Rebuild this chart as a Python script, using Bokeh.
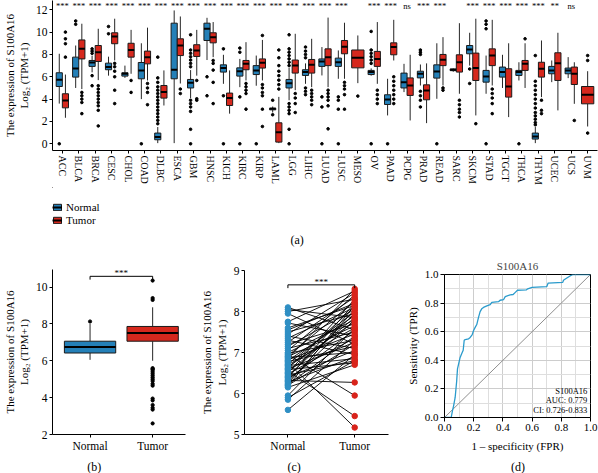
import numpy as np
from bokeh.plotting import figure
from bokeh.layouts import column, row
from bokeh.models import (ColumnDataSource, FixedTicker, Legend, LegendItem,
                          Range1d, Label, PrintfTickFormatter)
from bokeh.embed import file_html
from bokeh.resources import INLINE
from bokeh.core.properties import value

FONT = "Liberation Serif"
BLUE = "#2480b8"
RED = "#d6281d"
EDGE = "#1a1a1a"

# ---------------- data: panel (a) ----------------
cancers = ["ACC", "BLCA", "BRCA", "CESC", "CHOL", "COAD", "DLBC", "ESCA", "GBM", "HNSC",
           "KICH", "KIRC", "KIRP", "LAML", "LGG", "LIHC", "LUAD", "LUSC", "MESO", "OV",
           "PAAD", "PCPG", "PRAD", "READ", "SARC", "SKCM", "STAD", "TGCT", "THCA", "THYM",
           "UCEC", "UCS", "UVM"]
sig_labels = ["***", "***", "***", "***", "***", "***", "***", "***", "***", "***",
              "***", "***", "***", "***", "***", "***", "***", "***", "", "***",
              "***", "ns", "***", "***", "", "***", "***", "***", "***", "***",
              "**", "ns", ""]

normal_low = [3.6, 5.0, 6.4, 6.1, 5.9, 4.0, 0.06, 0.06, 4.1, 7.5, 5.37, 5.07, 5.2, 2.8, 3.9, 5.37, 6.12,
              5.82, None, 6.1, 2.54, 4.63, 5.22, 4.03, 6.45, 7.0, 4.48, 5.0, 5.67, 0.06, 5.52, 5.88, None]
normal_q1 = [5.13, 5.97, 6.93, 6.63, 6.06, 5.82, 0.36, 5.82, 5.0, 9.25, 6.42, 6.06, 6.2, 3.04, 5.0, 6.12, 6.93,
             6.93, None, 6.2, 3.52, 5.0, 5.9, 5.88, 6.55, 8.06, 5.52, 5.97, 6.12, 0.42, 6.27, 6.27, None]
normal_med = [5.73, 6.75, 7.28, 6.87, 6.27, 6.57, 0.6, 6.63, 5.46, 10.3, 6.78, 6.5, 6.57, 3.13, 5.43, 6.42, 7.37,
              7.3, None, 6.42, 3.97, 5.52, 6.27, 6.48, 6.62, 8.45, 6.03, 6.42, 6.42, 0.66, 6.57, 6.57, None]
normal_q3 = [6.36, 7.76, 7.46, 7.22, 6.36, 7.28, 0.96, 10.8, 5.76, 10.8, 7.07, 6.8, 7.0, 3.19, 5.76, 6.63, 7.6,
             7.67, None, 6.57, 4.39, 6.33, 6.5, 7.07, 6.7, 8.8, 6.57, 6.87, 6.57, 0.96, 6.93, 6.78, None]
normal_high = [8.06, 8.8, 7.9, 7.8, 7.0, 9.0, 1.5, 11.94, 6.6, 11.28, 7.97, 7.6, 7.9, 3.34, 6.8, 7.2, 8.66,
               8.36, None, 6.75, 5.82, 7.16, 7.1, 9.0, 6.75, 9.94, 7.9, 7.97, 7.3, 1.5, 7.46, 7.76, None]

tumor_low = [2.33, 4.9, 5.7, 7.46, 6.27, 5.67, 3.43, 5.4, 6.1, 7.76, 2.7, 5.67, 5.67, 0.06, 4.8, 5.07, 5.07,
             5.82, 5.43, 5.37, 7.46, 2.09, 1.85, 5.22, 4.48, 2.54, 5.22, 2.39, 5.0, 4.18, 2.99, 3.58, 1.55]
tumor_q1 = [3.22, 7.6, 7.37, 8.96, 7.76, 7.16, 4.09, 7.9, 7.82, 9.04, 3.43, 6.63, 6.78, 0.15, 6.33, 6.33, 7.0,
            8.06, 6.8, 6.93, 7.97, 4.33, 3.94, 7.0, 6.42, 5.67, 7.0, 4.18, 6.57, 5.97, 5.67, 5.31, 3.58]
tumor_med = [3.88, 8.5, 8.2, 9.6, 8.4, 7.76, 4.63, 8.8, 8.36, 9.55, 4.09, 7.16, 7.25, 1.04, 7.0, 7.07, 7.76,
             8.7, 7.7, 7.6, 8.66, 5.22, 4.78, 7.52, 7.3, 6.78, 7.9, 5.13, 7.16, 6.72, 7.22, 6.27, 4.39]
tumor_q3 = [4.48, 9.3, 8.8, 9.94, 9.0, 8.3, 5.22, 9.4, 8.87, 9.94, 4.54, 7.46, 7.6, 1.88, 7.5, 7.55, 8.5,
            9.25, 8.4, 8.27, 9.04, 5.9, 5.28, 8.0, 7.97, 8.12, 8.5, 6.72, 7.46, 7.3, 8.15, 6.87, 5.13]
tumor_high = [6.2, 10.75, 10.3, 11.2, 10.2, 10.4, 6.57, 11.4, 10.2, 10.9, 6.57, 9.1, 9.3, 4.2, 9.85, 9.4, 11.3,
              10.84, 9.7, 10.9, 11.1, 7.97, 7.2, 9.55, 10.8, 11.2, 11.1, 9.0, 9.0, 9.25, 9.94, 7.3, 6.5]

normal_out = [
    [0.0], [11.0, 10.7], [8.5, 8.3, 8.1, 6.1, 5.2], [10.5, 9.85], [], [0.0],
    [7.76, 5.9, 5.5, 5.1, 4.8, 4.5, 4.2, 3.9, 3.6, 3.3, 3.0, 2.7, 2.4, 2.1, 1.8],
    [], [9.76, 8.4, 8.1, 7.8, 7.5, 7.2, 6.9, 3.9, 3.6, 3.3, 2.9, 1.3, 0.0], [6.0, 4.3],
    [8.5, 4.3, 0.0], [8.57, 8.2, 4.2, 0.0], [0.0], [3.9, 2.6],
    [9.76, 8.5, 8.2, 7.9, 7.6, 7.3, 7.0, 3.6, 3.3, 3.0, 2.7, 1.3, 0.0],
    [8.66, 8.3, 8.0, 7.7, 5.0, 4.7, 4.4], [4.2, 3.3, 0.0], [4.2, 3.9, 3.1, 0.0], [],
    [10.06, 8.4, 8.1, 7.8, 7.5, 7.2, 0.0], [0.0], [], [8.4, 8.2, 8.0, 4.7, 4.3, 3.9, 3.3],
    [0.0], [], [6.7, 5.4], [11.0, 10.7, 10.3, 0.0], [], [0.0],
    [7.9, 5.6, 5.2, 4.8, 4.4, 4.0, 3.6, 3.2, 2.8, 2.5, 2.2, 1.9, 1.7], [], [], [],
]
tumor_out = [
    [10.0, 9.4, 8.96, 7.76], [4.6, 4.3, 4.0, 3.7, 2.7], [5.2, 4.9, 4.6, 4.3, 4.0, 3.7, 3.4, 3.0, 1.6],
    [7.2, 6.9, 6.5, 6.0, 4.8, 3.6], [5.67, 4.6], [5.4, 5.0, 4.6, 3.5], [], [4.9, 4.5],
    [5.67, 4.03, 3.9], [7.46, 7.2, 6.6, 5.5, 3.6], [], [5.4, 5.1, 4.8, 4.5, 3.1],
    [9.7, 5.3, 5.0, 4.6, 4.3, 3.1, 1.55], [8.4, 7.7, 7.0, 6.5, 6.1, 5.7, 5.3, 4.9],
    [4.5, 4.1, 3.6, 2.8], [4.8, 4.5, 4.2, 3.9, 3.5], [4.8, 4.5, 4.2, 3.9, 3.4, 1.34],
    [5.5, 5.2, 4.9, 4.4, 3.1], [4.27], [4.8, 4.4, 4.0, 3.6], [6.0, 5.6, 5.2, 4.8, 4.4, 4.0, 3.6],
    [], [], [5.0, 4.8], [3.9, 3.5, 3.1, 2.8, 2.4], [1.8], [4.9, 4.5, 4.1, 3.6, 2.7], [], [9.4],
    [3.9, 3.0, 2.7], [], [2.09], [7.9, 7.46, 0.96],
]

# ---------------- data: panel (b) ----------------
b_groups = ["Normal", "Tumor"]
b_low = [6.05, 6.0]
b_q1 = [6.42, 7.06]
b_med = [6.74, 7.5]
b_q3 = [7.06, 7.86]
b_high = [8.0, 8.9]
b_out = [[8.13],
         [10.35, 9.4, 9.3, 5.6, 5.55, 5.5, 5.4, 5.3, 5.2, 5.1, 5.0, 4.9, 4.75, 4.65,
          3.95, 3.85, 3.6, 3.45, 3.35, 2.6]]
b_sig = "***"
b_bracket = [10.4, 10.58]

# ---------------- data: panel (c) ----------------
c_groups = ["Normal", "Tumor"]
c_normal = [8.10, 8.05, 8.00, 7.95, 7.75, 7.72, 7.60, 7.55, 7.50, 7.45, 7.40, 7.35, 7.30, 7.25, 7.20,
            7.15, 7.10, 7.05, 7.00, 6.98, 6.95, 6.92, 6.90, 6.88, 6.85, 6.82, 6.80, 6.78, 6.75, 6.72,
            6.70, 6.68, 6.65, 6.62, 6.60, 6.58, 6.55, 6.52, 6.50, 6.48, 6.45, 6.42, 6.40, 6.38, 6.35,
            6.32, 6.30, 6.28, 6.25, 6.22, 6.20, 6.18, 6.15, 5.95, 5.90, 5.85, 5.60]
c_tumor = [7.55, 7.85, 8.30, 7.20, 8.50, 7.40, 8.15, 8.20, 7.95, 8.45, 7.10, 8.10, 6.95, 8.35, 7.70,
           8.05, 7.50, 8.40, 7.80, 7.30, 5.95, 8.25, 7.65, 7.00, 8.55, 7.45, 7.90, 7.15, 5.17, 8.00,
           7.60, 6.85, 7.75, 8.12, 7.25, 6.75, 5.45, 7.85, 8.30, 7.35, 6.80, 7.95, 7.05, 8.20, 7.55,
           6.27, 7.80, 6.90, 8.05, 7.40, 7.20, 8.15, 6.70, 7.60, 6.80, 7.30, 6.95]
c_sig = "***"
c_bracket = [8.57, 8.65]

# ---------------- data: panel (d) ----------------
fpr = [0.0, 0.046, 0.055, 0.062, 0.073, 0.083, 0.089, 0.098, 0.107, 0.119, 0.128, 0.135, 0.142, 0.165,
       0.176, 0.19, 0.2, 0.21, 0.221, 0.233, 0.244, 0.255, 0.267, 0.29, 0.313, 0.324, 0.37, 0.381, 0.405,
       0.416, 0.45, 0.47, 0.485, 0.5, 0.56, 0.57, 0.6, 0.70, 0.71, 0.81, 0.815, 0.83, 0.86, 0.88, 1.0]
tpr = [0.0, 0.0, 0.05, 0.08, 0.14, 0.25, 0.34, 0.38, 0.42, 0.45, 0.47, 0.54, 0.545, 0.55, 0.56, 0.58,
       0.61, 0.63, 0.65, 0.70, 0.74, 0.76, 0.77, 0.78, 0.79, 0.805, 0.81, 0.82, 0.825, 0.845, 0.858, 0.86,
       0.875, 0.89, 0.892, 0.9, 0.91, 0.915, 0.94, 0.945, 0.96, 0.97, 0.99, 1.0, 1.0]
roc_text = ["S100A16", "AUC: 0.779", "CI: 0.726-0.833"]
diag = [0.0, 1.0]

panel_tags = ["(b)", "(c)", "(d)"]

YLABEL = "The expression of S100A16\nLog\u2082 (TPM+1)"


def style(p, tick_size="12px", label_size="11px"):
    p.background_fill_color = "white"
    p.border_fill_color = "white"
    p.outline_line_color = None
    p.grid.grid_line_color = None
    for ax in p.axis:
        ax.axis_line_color = "black"
        ax.axis_line_width = 1
        ax.major_tick_line_color = "black"
        ax.minor_tick_line_color = None
        ax.major_tick_in = 0
        ax.major_tick_out = 3
        ax.major_label_standoff = 2
        ax.major_label_text_font = FONT
        ax.major_label_text_font_size = tick_size
        ax.major_label_text_color = "black"
        ax.axis_label_text_font = FONT
        ax.axis_label_text_font_size = label_size
        ax.axis_label_text_font_style = "normal"
        ax.axis_label_text_color = "black"
        ax.axis_label_standoff = 3


def boxes(p, xs, ws, low, q1, med, q3, high, outs, colors, dot):
    xs = np.asarray(xs, float)
    ws = np.asarray(ws, float)
    src = ColumnDataSource(dict(x=xs, w=ws, low=low, q1=q1, med=med, q3=q3, high=high,
                                x0=xs - ws / 2, x1=xs + ws / 2, fill=colors))
    p.segment("x", "low", "x", "q1", source=src, line_color="#262626", line_width=1)
    p.segment("x", "q3", "x", "high", source=src, line_color="#262626", line_width=1)
    p.vbar(x="x", width="w", bottom="q1", top="q3", source=src,
           fill_color="fill", line_color=EDGE, line_width=1)
    p.segment("x0", "med", "x1", "med", source=src, line_color="black", line_width=2)
    ox, oy = [], []
    for x, lst in zip(xs, outs):
        ox += [x] * len(lst)
        oy += list(lst)
    p.scatter(ox, oy, size=dot, color="black", marker="circle")


def strip(h):
    # frame is aligned with panel (a)'s frame (page x 49..597); x data == page pixels
    s = figure(width=598, height=h, x_range=Range1d(49, 597), y_range=Range1d(h, 0),
               output_backend="svg", toolbar_location=None, x_axis_type=None, y_axis_type=None,
               min_border_left=49, min_border_right=1, min_border_top=0, min_border_bottom=0)
    s.outline_line_color = None
    s.grid.grid_line_color = None
    s.background_fill_color = "white"
    s.border_fill_color = "white"
    return s


# ================= panel (a) =================
pa = figure(width=598, height=187, x_range=Range1d(-0.6, 32.6), y_range=Range1d(-0.6, 12.83),
            output_backend="svg", toolbar_location=None,
            min_border_left=49, min_border_right=1, min_border_top=0, min_border_bottom=37)
style(pa, tick_size="11.5px", label_size="11px")
idx = np.arange(len(cancers))
has_n = [m is not None for m in normal_med]
n_sel = [i for i in idx if has_n[i]]
n_x = [i - 0.1875 for i in n_sel]
t_x = [i + 0.1875 if has_n[i] else float(i) for i in idx]
t_w = [0.375 if has_n[i] else 0.75 for i in idx]
boxes(pa, n_x, [0.375] * len(n_x),
      [normal_low[i] for i in n_sel], [normal_q1[i] for i in n_sel], [normal_med[i] for i in n_sel],
      [normal_q3[i] for i in n_sel], [normal_high[i] for i in n_sel], [normal_out[i] for i in n_sel],
      [BLUE] * len(n_x), 2.6)
boxes(pa, t_x, t_w, tumor_low, tumor_q1, tumor_med, tumor_q3, tumor_high, tumor_out,
      [RED] * len(t_x), 2.6)
pa.text(x=idx, y=[12.36] * len(idx), text=sig_labels, text_align="center", text_baseline="middle",
        text_font=value(FONT), text_font_size="8.5px", text_color="black")
pa.xaxis.ticker = FixedTicker(ticks=list(idx))
pa.xaxis.major_label_overrides = {int(i): c for i, c in zip(idx, cancers)}
pa.xaxis.major_label_orientation = "vertical"
pa.xaxis.major_label_text_font_size = "10px"
pa.yaxis.ticker = FixedTicker(ticks=[0, 2, 4, 6, 8, 10, 12])
pa.yaxis.axis_label = YLABEL

# ================= legend strip + (a) =================
lp = strip(60)
far = dict(x=[-1000], top=[-1000], bottom=[-1001], x0=[-1001], x1=[-999], y=[-1000])
rn_box = lp.vbar(x="x", top="top", bottom="bottom", width=1, source=ColumnDataSource(far),
                 fill_color=BLUE, line_color=EDGE)
rn_med = lp.segment(x0="x0", y0="y", x1="x1", y1="y", source=ColumnDataSource(far),
                    line_color="black", line_width=2)
rt_box = lp.vbar(x="x", top="top", bottom="bottom", width=1, source=ColumnDataSource(far),
                 fill_color=RED, line_color=EDGE)
rt_med = lp.segment(x0="x0", y0="y", x1="x1", y1="y", source=ColumnDataSource(far),
                    line_color="black", line_width=2)
leg = Legend(items=[LegendItem(label="Normal", renderers=[rn_box, rn_med]),
                    LegendItem(label="Tumor", renderers=[rt_box, rt_med])],
             location=(0, 21), orientation="vertical", border_line_color=None,
             background_fill_alpha=0, padding=1, spacing=0, margin=0,
             glyph_width=10, glyph_height=8, label_height=13, label_standoff=4,
             label_text_font=FONT, label_text_font_size="11px", label_text_color="black")
lp.add_layout(leg)
lp.text(x=[295], y=[52], text=["(a)"], text_align="center", text_baseline="middle",
        text_font=value(FONT), text_font_size="12px", text_color="black")

# ================= panel (b) =================
pb = figure(width=195, height=208, x_range=Range1d(-0.6, 1.525), y_range=Range1d(2, 10.95),
            output_backend="svg", toolbar_location=None,
            min_border_left=49, min_border_right=10, min_border_top=22, min_border_bottom=21)
style(pb, tick_size="11.5px", label_size="11px")
boxes(pb, [0, 1], [0.82, 0.82], b_low, b_q1, b_med, b_q3, b_high, b_out, [BLUE, RED], 3.2)
pb.line(x=[0, 0, 1, 1], y=[b_bracket[0], b_bracket[1], b_bracket[1], b_bracket[0]],
        line_color="black", line_width=1)
pb.text(x=[0.5], y=[b_bracket[1] + 0.17], text=[b_sig], text_align="center", text_baseline="middle",
        text_font=value(FONT), text_font_size="9px", text_color="black")
pb.xaxis.ticker = FixedTicker(ticks=[0, 1])
pb.xaxis.major_label_overrides = {0: b_groups[0], 1: b_groups[1]}
pb.yaxis.ticker = FixedTicker(ticks=[2, 4, 6, 8, 10])
pb.yaxis.axis_label = YLABEL

# ================= panel (c) =================
pc = figure(width=200, height=208, x_range=Range1d(-0.65, 1.506), y_range=Range1d(5, 9),
            output_backend="svg", toolbar_location=None,
            min_border_left=49, min_border_right=7, min_border_top=23, min_border_bottom=21)
style(pc, tick_size="11.5px", label_size="11px")
n_pts = len(c_normal)
pc.segment(x0=[0] * n_pts, y0=c_normal, x1=[1] * n_pts, y1=c_tumor, line_color="black", line_width=0.9)
pc.scatter(x=[0] * n_pts, y=c_normal, size=5.5, color="#2f8fc4", marker="circle")
pc.scatter(x=[1] * n_pts, y=c_tumor, size=5.5, color="#d8231b", marker="circle")
pc.line(x=[0, 0, 1, 1], y=[c_bracket[0], c_bracket[1], c_bracket[1], c_bracket[0]],
        line_color="black", line_width=1)
pc.text(x=[0.5], y=[c_bracket[1] + 0.07], text=[c_sig], text_align="center", text_baseline="middle",
        text_font=value(FONT), text_font_size="9px", text_color="black")
pc.xaxis.ticker = FixedTicker(ticks=[0, 1])
pc.xaxis.major_label_overrides = {0: c_groups[0], 1: c_groups[1]}
pc.yaxis.ticker = FixedTicker(ticks=[5, 6, 7, 8, 9])
pc.yaxis.axis_label = YLABEL

# ================= panel (d) =================
pdd = figure(width=203, height=208, x_range=Range1d(0, 1), y_range=Range1d(0, 1),
             output_backend="svg", toolbar_location=None,
             min_border_left=49, min_border_right=8, min_border_top=27, min_border_bottom=38)
style(pdd, tick_size="11px", label_size="11px")
major = [0.0, 0.2, 0.4, 0.6, 0.8, 1.0]
minor = [0.1, 0.3, 0.5, 0.7, 0.9]
for ax in pdd.axis:
    ax.ticker = FixedTicker(ticks=major, minor_ticks=minor)
    ax.formatter = PrintfTickFormatter(format="%.1f")
    ax.major_tick_out = 4
pdd.xaxis.axis_label_standoff = 6
for g in pdd.grid:
    g.ticker = FixedTicker(ticks=major, minor_ticks=minor)
    g.grid_line_color = "#cdcdcd"
    g.grid_line_width = 1
    g.minor_grid_line_color = "#dedede"
    g.minor_grid_line_width = 1
pdd.outline_line_color = "black"
pdd.outline_line_width = 1
pdd.line(x=diag, y=diag, line_color="#8f8f8f", line_width=1)
pdd.line(x=fpr, y=tpr, line_color="#2a9bcc", line_width=1.3)
for txt, yv in zip(roc_text, [0.187, 0.119, 0.051]):
    pdd.add_layout(Label(x=0.978, y=yv, text=txt, text_align="right", text_baseline="middle",
                         text_font=FONT, text_font_size="8.5px", text_color="black"))
pdd.xaxis.axis_label = "1 \u2013 specificity (FPR)"
pdd.yaxis.axis_label = "Sensitivity (TPR)"
pdd.title.text = "S100A16"
pdd.title.align = "center"
pdd.title.text_font = FONT
pdd.title.text_font_size = "11px"
pdd.title.text_font_style = "normal"
pdd.title.standoff = 6

# ================= panel tags strip =================
tp = strip(18)
tp.text(x=[91, 292, 517], y=[11, 11, 11], text=panel_tags, text_align="center", text_baseline="middle",
        text_font=value(FONT), text_font_size="12px", text_color="black")

bottom = row(column(pb), column(pc), column(pdd))
layout = column(pa, lp, bottom, tp)
open("out.html", "w").write(file_html(layout, INLINE))
